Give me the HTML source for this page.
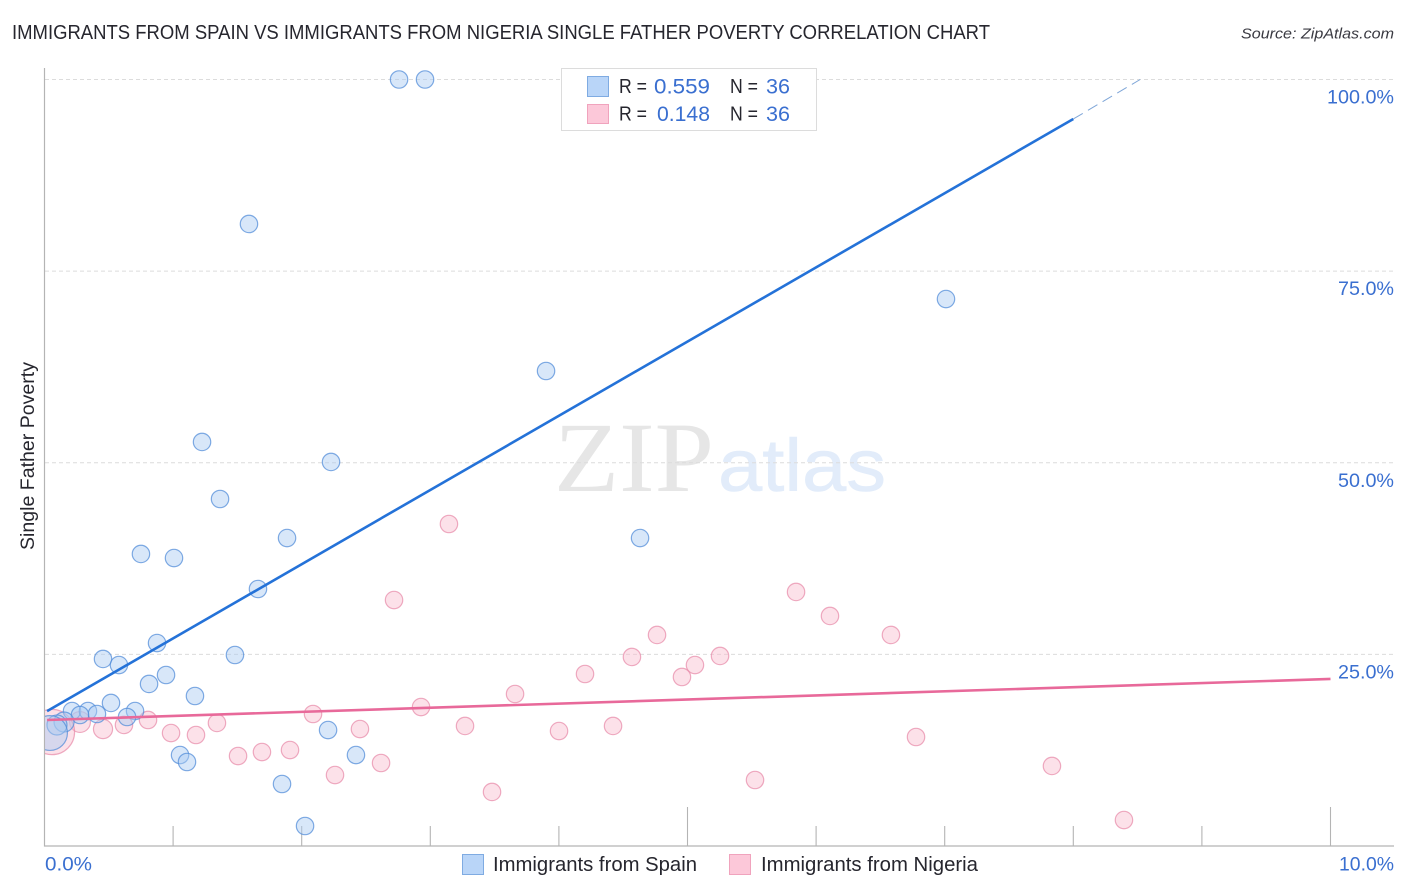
<!DOCTYPE html>
<html lang="en">
<head>
<meta charset="utf-8">
<title>Immigrants from Spain vs Immigrants from Nigeria Single Father Poverty Correlation Chart</title>
<style>
html,body{margin:0;padding:0;background:#fff;width:1406px;height:892px;overflow:hidden}
svg{display:block}
text{font-family:"Liberation Sans",sans-serif}
</style>
</head>
<body>
<svg id="chart" xmlns="http://www.w3.org/2000/svg" width="1406" height="892" viewBox="0 0 1406 892">
  <defs><clipPath id="plot-clip"><rect x="45" y="60" width="1361" height="786"/></clipPath></defs>
  <text x="12" y="39" font-size="20" fill="#26262e" textLength="978" lengthAdjust="spacingAndGlyphs">IMMIGRANTS FROM SPAIN VS IMMIGRANTS FROM NIGERIA SINGLE FATHER POVERTY CORRELATION CHART</text>
  <text x="1241" y="38.500" font-size="15" font-style="italic" fill="#3a3a42" textLength="153" lengthAdjust="spacingAndGlyphs">Source: ZipAtlas.com</text>
  <g>
    <text x="554" y="491" font-size="100" style="font-family:'Liberation Serif',serif" fill="#e6e6e6" textLength="160" lengthAdjust="spacingAndGlyphs">ZIP</text>
    <text x="718" y="491" font-size="74" fill="#e2ecfa" stroke="#e2ecfa" stroke-width="0.6" textLength="168" lengthAdjust="spacingAndGlyphs">atlas</text>
  </g>
  <g id="grid"></g>
  <g id="axes"></g>
  <g id="points" clip-path="url(#plot-clip)"></g>
  <g id="trends"></g>
  <g id="labels"></g>
  <text transform="translate(34,456) rotate(-90)" text-anchor="middle" font-size="19" fill="#26262e" textLength="188" lengthAdjust="spacingAndGlyphs">Single Father Poverty</text>

  <g>
    <rect x="561.500" y="68.500" width="255" height="62" fill="#fff" stroke="#dcdcdc" stroke-width="1"/>
    <rect x="587.500" y="76.500" width="21" height="20" fill="#b9d5f8" stroke="#7fabe2"/>
    <rect x="587.500" y="104.500" width="21" height="19" fill="#fcc8d9" stroke="#f0a3bd"/>
    <text x="619" y="93" font-size="20" fill="#26262e" textLength="28" lengthAdjust="spacingAndGlyphs">R =</text>
    <text x="654" y="93.500" font-size="21" fill="#3a6fd0" textLength="56" lengthAdjust="spacingAndGlyphs">0.559</text>
    <text x="730" y="93" font-size="20" fill="#26262e" textLength="28" lengthAdjust="spacingAndGlyphs">N =</text>
    <text x="766" y="93.500" font-size="21" fill="#3a6fd0" textLength="24" lengthAdjust="spacingAndGlyphs">36</text>
    <text x="619" y="120.500" font-size="20" fill="#26262e" textLength="28" lengthAdjust="spacingAndGlyphs">R =</text>
    <text x="657" y="121" font-size="21" fill="#3a6fd0" textLength="53" lengthAdjust="spacingAndGlyphs">0.148</text>
    <text x="730" y="120.500" font-size="20" fill="#26262e" textLength="28" lengthAdjust="spacingAndGlyphs">N =</text>
    <text x="766" y="121" font-size="21" fill="#3a6fd0" textLength="24" lengthAdjust="spacingAndGlyphs">36</text>
  </g>

  <g>
    <rect x="462.500" y="854.500" width="21" height="20" fill="#b9d5f8" stroke="#7fabe2"/>
    <text x="493" y="871" font-size="20" fill="#26262e" textLength="204" lengthAdjust="spacingAndGlyphs">Immigrants from Spain</text>
    <rect x="729.500" y="854.500" width="21" height="20" fill="#fcc8d9" stroke="#f0a3bd"/>
    <text x="761" y="871" font-size="20" fill="#26262e" textLength="217" lengthAdjust="spacingAndGlyphs">Immigrants from Nigeria</text>
  </g>
</svg>
<script>
const spainX = [2.757,2.959,1.590,7.010,3.900,1.225,2.228,1.365,1.886,4.631,0.750,1.007,1.660,0.875,1.481,0.455,0.579,0.945,0.813,1.170,0.517,0.214,0.338,0.704,0.408,0.276,0.642,0.152,0.097,2.205,1.054,2.422,1.108,1.847,2.026,0.043];
const spainY = [100,100,81.15,71.36,61.97,52.71,50.10,45.27,40.18,40.18,38.10,37.57,33.53,26.48,24.92,24.40,23.61,22.31,21.14,19.57,18.66,17.61,17.61,17.61,17.22,17.09,16.83,16.18,15.79,15.13,11.87,11.87,10.96,8.09,2.61,14.74];
const spainWeight = [1,1,1,1,1,1,1,1,1,1,1,1,1,1,1,1,1,1,1,1,1,1,1,1,1,1,1,1.15,1.15,1,1,1,1,1,1,2];

const nigeriaX = [3.145,2.718,5.844,6.108,6.582,4.763,4.568,5.058,5.253,4.957,4.203,3.659,2.928,2.088,1.341,0.805,0.618,0.455,0.276,0.984,1.178,2.453,3.270,4.001,4.421,6.777,1.505,1.691,1.909,2.617,2.259,3.480,5.525,7.834,8.394,0.058];
const nigeriaY = [42.01,32.09,33.14,30.01,27.53,27.53,24.66,23.61,24.79,22.05,22.44,19.83,18.13,17.22,16.05,16.44,15.79,15.26,16.18,14.74,14.48,15.26,15.66,15.00,15.66,14.22,11.74,12.26,12.52,10.83,9.26,7.05,8.61,10.44,3.39,14.87];
const nigeriaWeight = [1,1,1,1,1,1,1,1,1,1,1,1,1,1,1,1,1,1.1,1.2,1,1,1,1,1,1,1,1,1,1,1,1,1,1,1,1,2.6];

const spainTrendX = [0.02,8.0];
const spainTrendY = [17.6,94.85];
const spainDashX = [8.0,8.52];
const spainDashY = [94.85,100];
const nigeriaTrendX = [0.02,10];
const nigeriaTrendY = [16.44,21.79];

const xTicks = [1,2,3,4,5,6,7,8,9,10];
const xMajorTicks = [5,10];
const yTicks = [25,50,75,100];
const yTickLabels = ['25.0%','50.0%','75.0%','100.0%'];
const xTickValues = [0,10];
const xTickLabels = ['0.0%','10.0%'];

const NS = 'http://www.w3.org/2000/svg';
function xScale(v){ return 44.5 + v * 128.6; }
function yScale(v){ return 846 - v * 7.665; }
function make(tag, attrs, parent){
  const el = document.createElementNS(NS, tag);
  for (const k in attrs) el.setAttribute(k, attrs[k]);
  parent.appendChild(el);
  return el;
}
const gGrid = document.getElementById('grid');
const gAxes = document.getElementById('axes');
const gPoints = document.getElementById('points');
const gTrends = document.getElementById('trends');
const gLabels = document.getElementById('labels');

yTicks.forEach(function(v){
  const l = make('line', {x1:45, x2:1393, y1:yScale(v), y2:yScale(v), stroke:'#dcdcdc', 'stroke-width':1, 'stroke-dasharray':'4 3'}, gGrid);
  
  
});

const yAxis = make('line', {x1:44.5, x2:44.5, y1:68, y2:846.5, stroke:'#b4b4b4', 'stroke-width':1.2}, gAxes);


const xAxis = make('line', {x1:44, x2:1394, y1:846, y2:846, stroke:'#b4b4b4', 'stroke-width':1.2}, gAxes);


xTicks.forEach(function(v){
  const major = xMajorTicks.indexOf(v) >= 0;
  const t = make('line', {x1:xScale(v), x2:xScale(v), y1:major ? 807 : 826, y2:846, stroke:'#b4b4b4', 'stroke-width':1.1}, gAxes);
  
  
});

function drawPoints(xs, ys, ws, fill, stroke, name){
  xs.forEach(function(x, i){
    const c = make('circle', {cx:xScale(x), cy:yScale(ys[i]), r:8.7 * ws[i], fill:fill, 'fill-opacity':0.46, stroke:stroke, 'stroke-opacity':0.72, 'stroke-width':1.2}, gPoints);
    
    
  });
}
drawPoints(nigeriaX, nigeriaY, nigeriaWeight, '#f9bdd0', '#e88aa9', 'nigeria-point');
drawPoints(spainX, spainY, spainWeight, '#a9caf3', '#4f8ad8', 'spain-point');

const spainLine = make('line', {x1:xScale(spainTrendX[0]), y1:yScale(spainTrendY[0]), x2:xScale(spainTrendX[1]), y2:yScale(spainTrendY[1]), stroke:'#2472d8', 'stroke-width':2.6}, gTrends);


const spainDash = make('line', {x1:xScale(spainDashX[0]), y1:yScale(spainDashY[0]), x2:xScale(spainDashX[1]), y2:yScale(spainDashY[1]), stroke:'#7fa6d8', 'stroke-width':1, 'stroke-dasharray':'11 6'}, gTrends);


const nigeriaLine = make('line', {x1:xScale(nigeriaTrendX[0]), y1:yScale(nigeriaTrendY[0]), x2:xScale(nigeriaTrendX[1]), y2:yScale(nigeriaTrendY[1]), stroke:'#e8699a', 'stroke-width':2.6}, gTrends);



yTicks.forEach(function(v, i){
  const t = make('text', {x:1394, y:yScale(v) + 24, 'text-anchor':'end', 'font-size':19.5, fill:'#3a6fd0'}, gLabels);
  t.setAttribute('textLength', yTickLabels[i].length === 6 ? 67 : 56);
  t.setAttribute('lengthAdjust', 'spacingAndGlyphs');
  t.textContent = yTickLabels[i];
  
  
});
xTickValues.forEach(function(v, i){
  const last = i === xTickValues.length - 1;
  const t = make('text', {x:last ? 1339 : 45, y:870.5, 'font-size':19.5, fill:'#3a6fd0'}, gLabels);
  t.setAttribute('textLength', last ? 55 : 47);
  t.setAttribute('lengthAdjust', 'spacingAndGlyphs');
  t.textContent = xTickLabels[i];
  
  
});
</script>
</body>
</html>
